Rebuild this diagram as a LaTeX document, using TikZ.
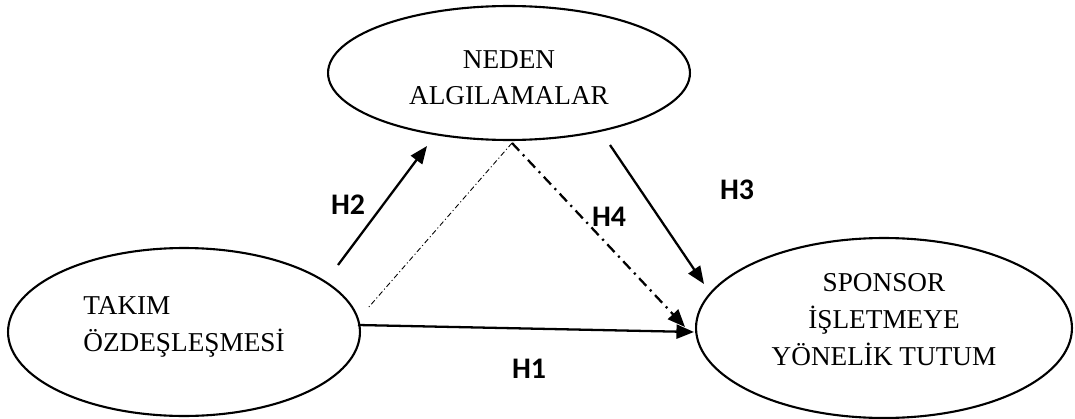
\documentclass[tikz,border=0pt]{standalone}
\usepackage{fontspec}
\setmainfont{Liberation Serif}
\newfontfamily\hfont{Carlito}
\usetikzlibrary{shapes.geometric,arrows.meta}
\newcommand{\shiftedlines}[3]{\raisebox{#1}[\height][\depth]{\begin{tabular}{@{}#2@{}}#3\end{tabular}}}
\begin{document}
\begin{tikzpicture}[x=0.02cm,y=-0.02cm,
  ell/.style={draw,ellipse,line width=1.2pt,inner sep=0pt,
    font=\fontsize{15.5pt}{21pt}\selectfont},
  arr/.style={line width=1.3pt,-{Triangle[length=10pt,width=8pt]}},
  hlab/.style={font=\hfont\bfseries\fontsize{17pt}{20pt}\selectfont}]
\useasboundingbox (0,0) rectangle (1075,419);
\node[ell,minimum width=7.24cm,minimum height=2.68cm] (neden) at (509,73) {\shiftedlines{-3.5pt}{c}{NEDEN\\ALGILAMALAR}};
\node[ell,minimum width=7.04cm,minimum height=3.36cm] (takim) at (184,332) {\shiftedlines{3.5pt}{l}{TAKIM\\ÖZDEŞLEŞMESİ}};
\node[ell,minimum width=7.52cm,minimum height=3.6cm] (spon) at (884,328) {\shiftedlines{4pt}{c}{SPONSOR\\İŞLETMEYE\\YÖNELİK TUTUM}};
\coordinate (h2s) at (338,265);
\coordinate (h2e) at (427,146);
\coordinate (h3s) at (610,145);
\coordinate (h3e) at (704,284);
\coordinate (h4s) at (512,143);
\coordinate (h4e) at (685,327);
\coordinate (ths) at (368,308);
\coordinate (h1s) at (358,325);
\coordinate (h1e) at (694,332);
\draw[arr] (h2s) -- (h2e);
\draw[arr] (h3s) -- (h3e);
\draw[arr,dash pattern=on 6pt off 3pt on 1.2pt off 3pt] (h4s) -- (h4e);
\draw[line width=0.5pt,dash pattern=on 3pt off 1.5pt on 0.6pt off 1.5pt] (h4s) -- (ths);
\draw[arr] (h1s) -- (h1e);
\node[hlab] (l2) at (348,205) {H2};
\node[hlab] (l3) at (737,190) {H3};
\node[hlab] (l4) at (609,217) {H4};
\node[hlab] (l1) at (529,369) {H1};
\end{tikzpicture}
\end{document}
